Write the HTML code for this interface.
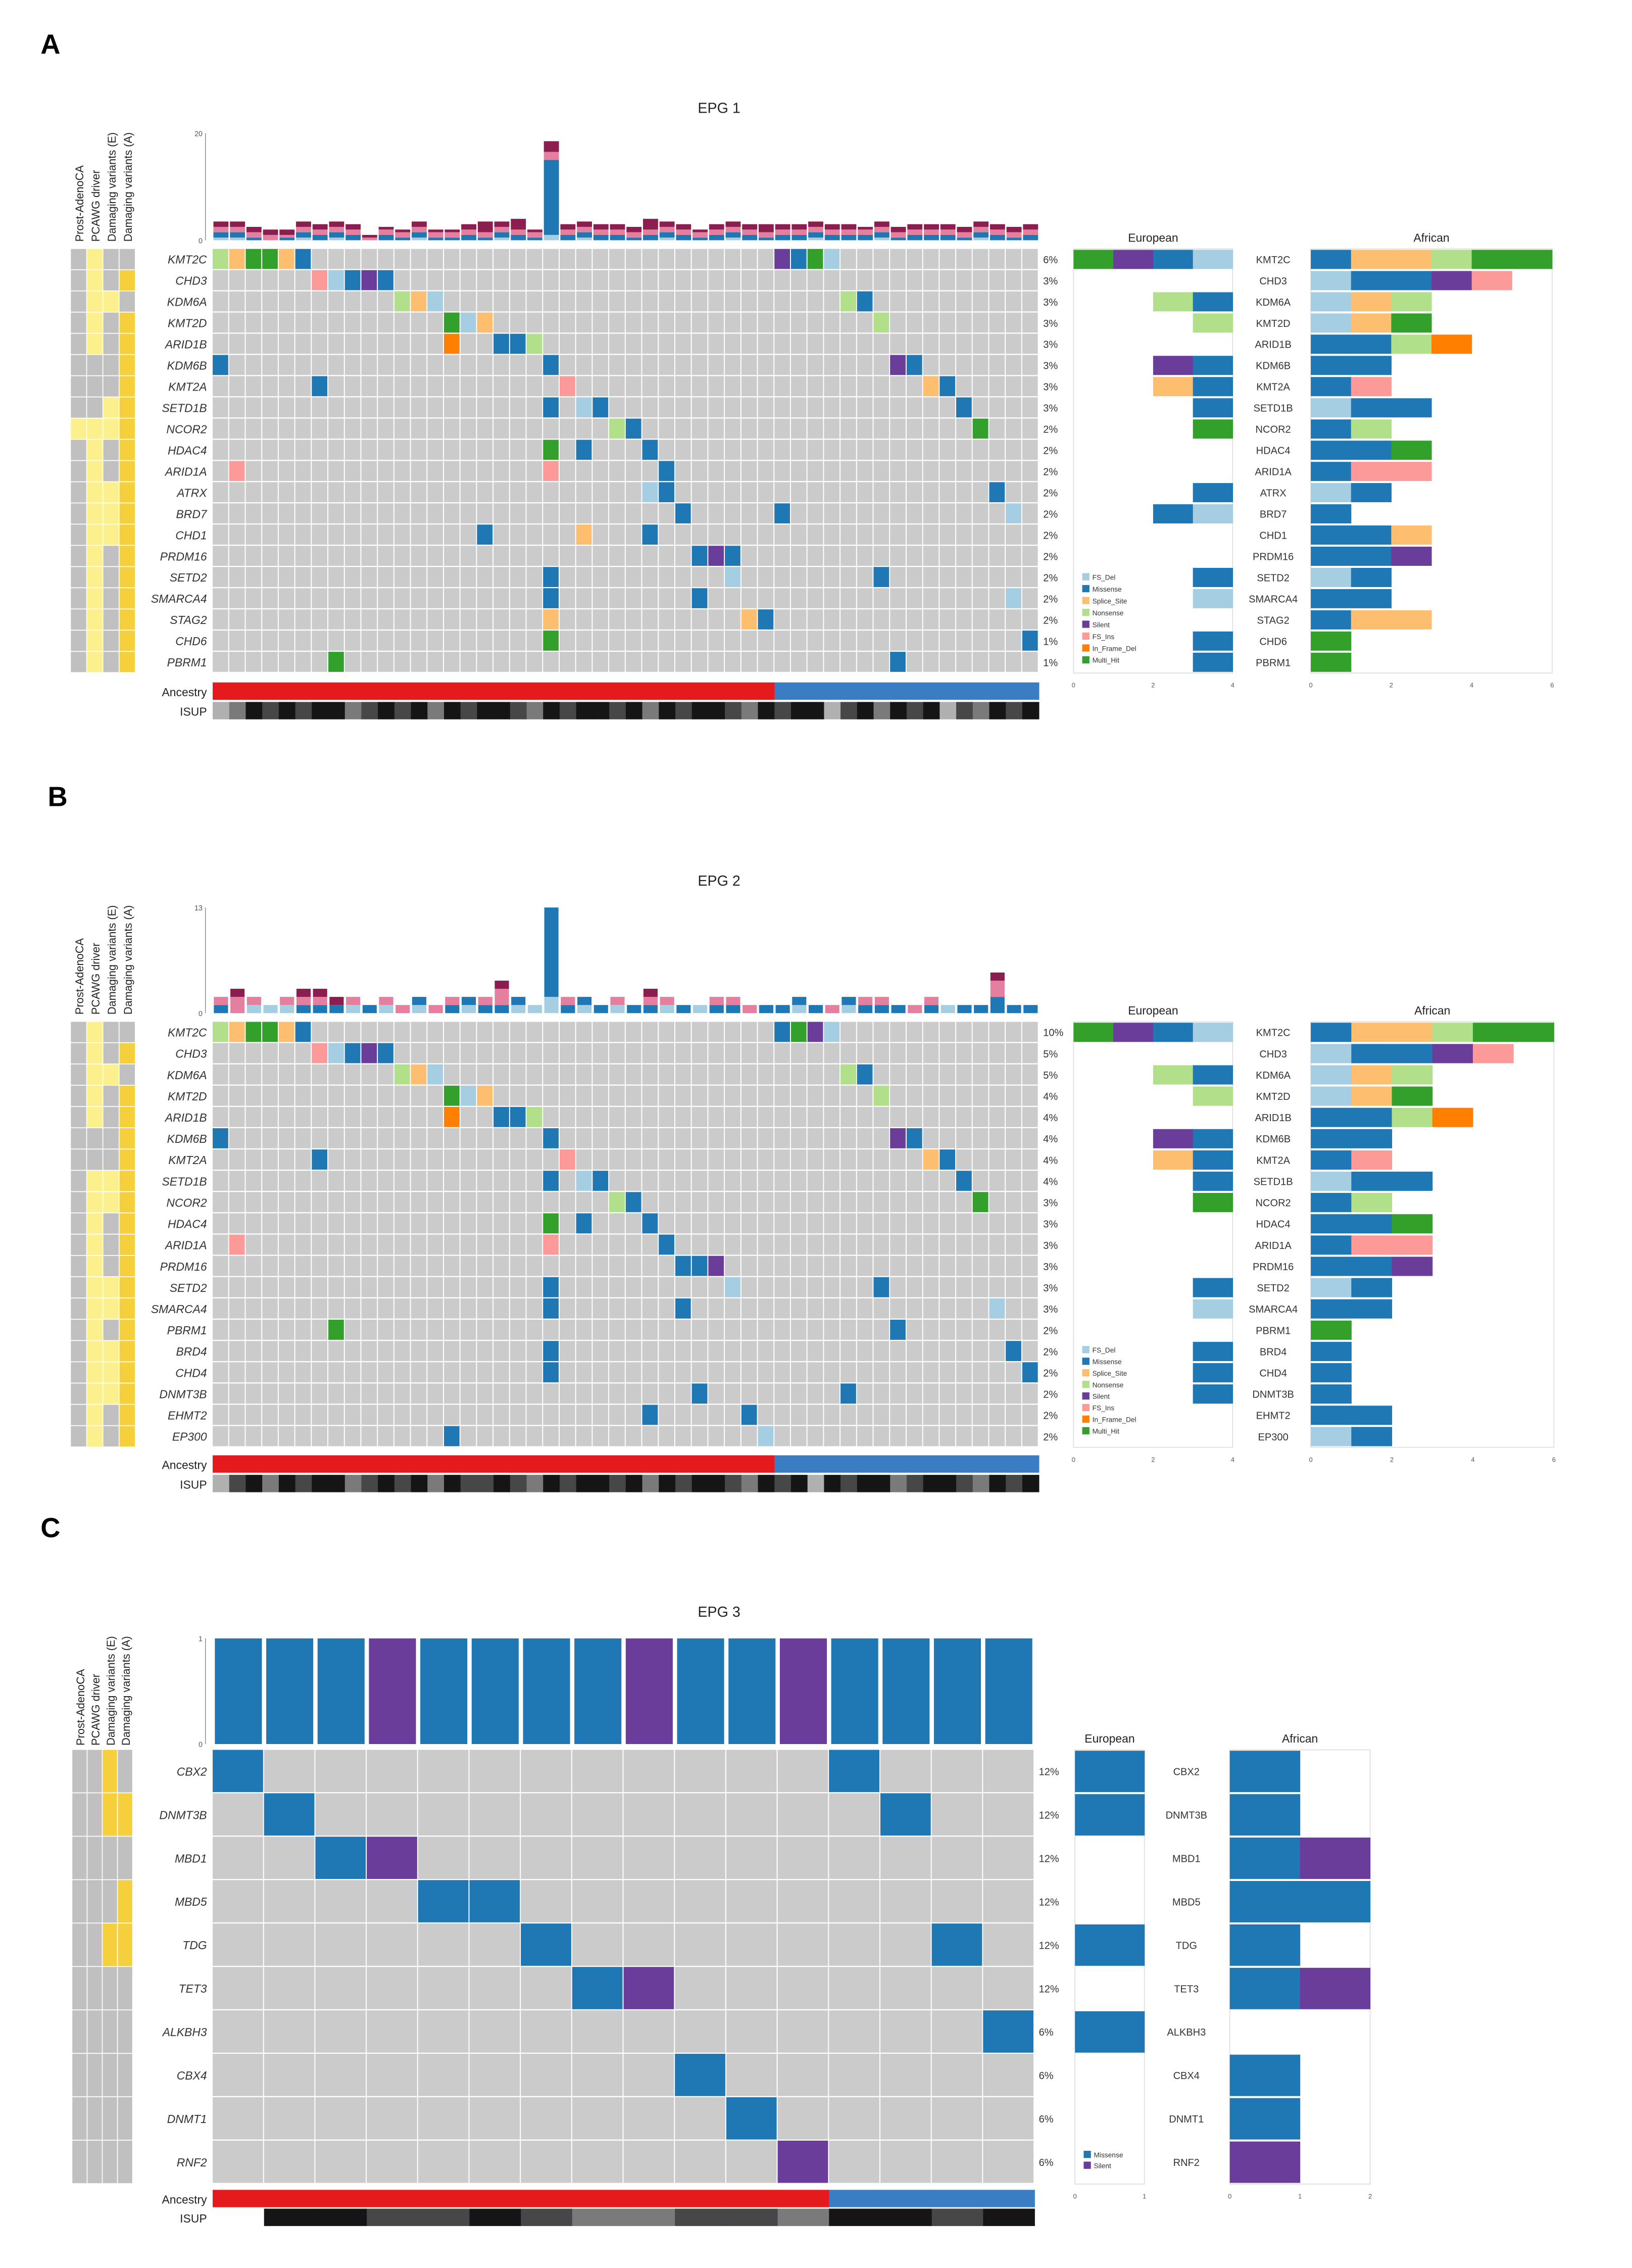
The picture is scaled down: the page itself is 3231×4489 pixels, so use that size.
<!DOCTYPE html>
<html><head><meta charset="utf-8">
<style>
html,body{margin:0;padding:0;background:#fff;}
svg{display:block;}
text{font-family:"Liberation Sans",sans-serif;}
</style></head>
<body>
<svg id="fig" xmlns="http://www.w3.org/2000/svg" width="3231" height="4489" viewBox="0 0 1128 1567" preserveAspectRatio="none">
<rect x="0" y="0" width="1128" height="1567" fill="#fff"/>
</svg>
<script>
// ---------- colours ----------
const typeColors = {fd:'#a6cee3',mi:'#1f78b4',sp:'#fdbf6f',no:'#b2df8a',si:'#6a3d9a',fi:'#fb9a99',id:'#ff7f00',mh:'#33a02c'};
const legendTypesAB = ['fd','mi','sp','no','si','fi','id','mh'];
const legendNamesAB = ['FS_Del','Missense','Splice_Site','Nonsense','Silent','FS_Ins','In_Frame_Del','Multi_Hit'];
const legendTypesC = ['mi','si'];
const legendNamesC = ['Missense','Silent'];
const isupColors = ['#151515','#474747','#7a7a7a','#b0b0b0','#ffffff'];
const annColors = ['#c0c0c0','#fbf08c','#f6cf3c'];
const annLabels = ['Prost-AdenoCA','PCAWG driver','Damaging variants (E)','Damaging variants (A)'];

// ---------- Panel A data ----------
const genesA = ['KMT2C','CHD3','KDM6A','KMT2D','ARID1B','KDM6B','KMT2A','SETD1B','NCOR2','HDAC4','ARID1A','ATRX','BRD7','CHD1','PRDM16','SETD2','SMARCA4','STAG2','CHD6','PBRM1'];
const pctA = [6,3,3,3,3,3,3,3,2,2,2,2,2,2,2,2,2,2,1,1];
const mutRowA = [0,0,0,0,0,0,0,0,0,0, 1,1,1,1,1, 2,2,2,2,2, 3,3,3,3, 4,4,4,4, 5,5,5,5, 6,6,6,6, 7,7,7,7, 8,8,8, 9,9,9, 10,10,10, 11,11,11, 12,12,12, 13,13,13, 14,14,14, 15,15,15, 16,16,16, 17,17,17, 18,18, 19,19];
const mutColA = [0,1,2,3,4,5,34,35,36,37, 6,7,8,9,10, 11,12,13,38,39, 14,15,16,40, 14,17,18,19, 0,20,41,42, 6,21,43,44, 20,22,23,45, 24,25,46, 20,22,26, 1,20,27, 26,27,47, 28,34,48, 16,22,26, 29,30,31, 20,31,40, 20,29,48, 20,32,33, 20,49, 7,41];
const mutTypeA = ['no','sp','mh','mh','sp','mi','si','mi','mh','fd', 'fi','fd','mi','si','mi', 'no','sp','fd','no','mi', 'mh','fd','sp','no', 'id','mi','mi','no', 'mi','mi','si','mi', 'mi','fi','sp','mi', 'mi','fd','mi','mi', 'no','mi','mh', 'mh','mi','mi', 'fi','fi','mi', 'fd','mi','mi', 'mi','mi','fd', 'mi','sp','mi', 'mi','si','mi', 'mi','fd','mi', 'mi','mi','fd', 'sp','sp','mi', 'mh','mi', 'mh','mi'];
const barBlueA = [1,1,0.5,0,0.5,1,1,1,1,0,1,0.5,1,0.5,0.5,1,0.5,1,1,0.5,14,1,1,1,1,0.5,1,1,1,0.5,1,1,1,0.5,1,1,1,1,1,1,1,0.5,1,1,1,0.5,1,1,0.5,1];
const barLightA = [0.5,0.5,0,0,0,0.5,0,0.5,0,0,0,0,0.5,0,0,0,0,0.5,0,0,1,0,0.5,0,0,0,0,0.5,0,0,0,0.5,0,0,0,0,0.5,0,0,0,0.5,0,0,0,0,0,0.5,0,0,0];
const barPinkA = [1,1,1,1,0.5,1,1,1,1,0.5,1,1,1,1,1,1,1,1,1,1,1.5,1,1,1,1,1,1,1,1,1,1,1,1,1,1,1,1,1,1,1,1,1,1,1,1,1,1,1,1,1];
const barMaroonA = [1,1,1,1,1,1,1,1,1,0.5,0.5,0.5,1,0.5,0.5,1,2,1,2,0.5,2,1,1,1,1,1,2,1,1,0.5,1,1,1,1.5,1,1,1,1,1,0.5,1,1,1,1,1,1,1,1,1,1];
const isupA = [3,2,0,1,0,1,0,0,2,1,0,1,0,2,0,1,0,0,1,2,0,1,0,0,1,0,2,0,1,0,0,1,2,0,1,0,0,3,1,0,2,0,1,0,3,1,2,0,1,0];
const ann0A = [0,0,0,0,0,0,0,0,1,0,0,0,0,0,0,0,0,0,0,0];
const ann1A = [1,1,1,1,1,0,0,0,1,1,1,1,1,1,1,1,1,1,1,1];
const ann2A = [0,0,1,0,0,0,0,1,1,0,0,1,1,1,0,0,0,0,0,0];
const ann3A = [0,2,0,2,2,2,2,2,2,2,2,2,2,2,2,2,2,2,2,2];
const euroA = [['mh','si','mi','fd'],[],['no','mi'],['no'],[],['si','mi'],['sp','mi'],['mi'],['mh'],[],[],['mi'],['mi','fd'],[],[],['mi'],['fd'],[],['mi'],['mi']];
const afrA = [['mi','sp','sp','no','mh','mh'],['fd','mi','mi','si','fi'],['fd','sp','no'],['fd','sp','mh'],['mi','mi','no','id'],['mi','mi'],['mi','fi'],['fd','mi','mi'],['mi','no'],['mi','mi','mh'],['mi','fi','fi'],['fd','mi'],['mi'],['mi','mi','sp'],['mi','mi','si'],['fd','mi'],['mi','mi'],['mi','sp','sp'],['mh'],['mh']];

// ---------- Panel B data ----------
const genesB = ['KMT2C','CHD3','KDM6A','KMT2D','ARID1B','KDM6B','KMT2A','SETD1B','NCOR2','HDAC4','ARID1A','PRDM16','SETD2','SMARCA4','PBRM1','BRD4','CHD4','DNMT3B','EHMT2','EP300'];
const pctB = [10,5,5,4,4,4,4,4,3,3,3,3,3,3,2,2,2,2,2,2];
const mutRowB = [0,0,0,0,0,0,0,0,0,0, 1,1,1,1,1, 2,2,2,2,2, 3,3,3,3, 4,4,4,4, 5,5,5,5, 6,6,6,6, 7,7,7,7, 8,8,8, 9,9,9, 10,10,10, 11,11,11, 12,12,12, 13,13,13, 14,14, 15,15, 16,16, 17,17, 18,18, 19,19];
const mutColB = [0,1,2,3,4,5,34,35,36,37, 6,7,8,9,10, 11,12,13,38,39, 14,15,16,40, 14,17,18,19, 0,20,41,42, 6,21,43,44, 20,22,23,45, 24,25,46, 20,22,26, 1,20,27, 28,29,30, 20,31,40, 20,28,47, 7,41, 20,48, 20,49, 29,38, 26,32, 14,33];
const mutTypeB = ['no','sp','mh','mh','sp','mi','mi','mh','si','fd', 'fi','fd','mi','si','mi', 'no','sp','fd','no','mi', 'mh','fd','sp','no', 'id','mi','mi','no', 'mi','mi','si','mi', 'mi','fi','sp','mi', 'mi','fd','mi','mi', 'no','mi','mh', 'mh','mi','mi', 'fi','fi','mi', 'mi','mi','si', 'mi','fd','mi', 'mi','mi','fd', 'mh','mi', 'mi','mi', 'mi','mi', 'mi','mi', 'mi','mi', 'mi','fd'];
const barBlueB = [1,0,0,0,0,1,1,1,0,1,0,0,1,0,1,1,1,1,1,0,11,1,1,1,0,1,1,0,1,0,1,1,0,1,1,1,1,0,1,1,1,1,0,1,0,1,1,2,1,1];
const barLightB = [0,0,1,1,1,0,0,0,1,0,1,0,1,0,0,1,0,0,1,1,2,0,1,0,1,0,0,1,0,1,0,0,0,0,0,1,0,0,1,0,0,0,0,0,1,0,0,0,0,0];
const barPinkB = [1,2,1,0,1,1,1,0,1,0,1,1,0,1,1,0,1,2,0,0,0,1,0,0,1,0,1,1,0,0,1,1,1,0,0,0,0,1,0,1,1,0,1,1,0,0,0,2,0,0];
const barMaroonB = [0,1,0,0,0,1,1,1,0,0,0,0,0,0,0,0,0,1,0,0,0,0,0,0,0,0,1,0,0,0,0,0,0,0,0,0,0,0,0,0,0,0,0,0,0,0,0,1,0,0];
const isupB = [3,1,0,2,0,1,0,0,2,1,0,1,0,2,0,1,1,0,1,2,0,1,0,0,1,0,2,0,1,0,0,1,2,0,1,0,3,0,1,0,0,2,1,0,0,1,2,0,1,0];
const ann0B = [0,0,0,0,0,0,0,0,0,0,0,0,0,0,0,0,0,0,0,0];
const ann1B = [1,1,1,1,1,0,0,1,1,1,1,1,1,1,1,1,1,1,1,1];
const ann2B = [0,0,1,0,0,0,0,1,1,0,0,0,1,1,0,1,1,1,0,0];
const ann3B = [0,2,0,2,2,2,2,2,2,2,2,2,2,2,2,2,2,2,2,2];
const euroB = [['mh','si','mi','fd'],[],['no','mi'],['no'],[],['si','mi'],['sp','mi'],['mi'],['mh'],[],[],[],['mi'],['fd'],[],['mi'],['mi'],['mi'],[],[]];
const afrB = [['mi','sp','sp','no','mh','mh'],['fd','mi','mi','si','fi'],['fd','sp','no'],['fd','sp','mh'],['mi','mi','no','id'],['mi','mi'],['mi','fi'],['fd','mi','mi'],['mi','no'],['mi','mi','mh'],['mi','fi','fi'],['mi','mi','si'],['fd','mi'],['mi','mi'],['mh'],['mi'],['mi'],['mi'],['mi','mi'],['fd','mi']];

// ---------- Panel C data ----------
const genesC = ['CBX2','DNMT3B','MBD1','MBD5','TDG','TET3','ALKBH3','CBX4','DNMT1','RNF2'];
const pctC = [12,12,12,12,12,12,6,6,6,6];
const mutRowC = [0,0,1,1,2,2,3,3,4,4,5,5,6,7,8,9];
const mutColC = [0,12,1,13,2,3,4,5,6,14,7,8,15,9,10,11];
const mutTypeC = ['mi','mi','mi','mi','mi','si','mi','mi','mi','mi','mi','si','mi','mi','mi','si'];
const barBlueC = [1,1,1,0,1,1,1,1,0,1,1,0,1,1,1,1];
const barSilentC = [0,0,0,1,0,0,0,0,1,0,0,1,0,0,0,0];
const isupC = [4,0,0,1,1,0,1,2,2,1,1,2,0,0,1,0];
const ann0C = [0,0,0,0,0,0,0,0,0,0];
const ann1C = [0,0,0,0,0,0,0,0,0,0];
const ann2C = [2,2,0,0,2,0,0,0,0,0];
const ann3C = [0,2,0,2,2,0,0,0,0,0];
const euroC = [['mi'],['mi'],[],[],['mi'],[],['mi'],[],[],[]];
const afrC = [['mi'],['mi'],['mi','si'],['mi','mi'],['mi'],['mi','si'],[],['mi'],['mi'],['si']];

// ---------- drawing ----------
const NS = 'http://www.w3.org/2000/svg';
const svg = document.getElementById('fig');
function mk(tag, attrs, parent){
  const e = document.createElementNS(NS, tag);
  for (const k in attrs) e.setAttribute(k, attrs[k]);
  (parent || svg).appendChild(e);
  return e;
}
function txt(x,y,s,size,opts,parent){
  const o = Object.assign({x:x,y:y,'font-size':size,fill:'#222'}, opts||{});
  const t = mk('text', o, parent);
  t.textContent = s;
  return t;
}

function drawPanel(P){
  const g = mk('g', {});
  
  
  // letter + title
  const L = txt(P.letterX, P.letterY, P.letter, 19, {'font-weight':'bold', fill:'#000'}, g);
  
  
  const T = txt(497, P.titleY, P.title, 10, {'text-anchor':'middle', fill:'#222'}, g);
  
  

  const nR = P.genes.length, nC = P.nCols;
  const cw = P.gridW / nC;
  const colX = c => P.gridX + c * cw;
  const rowY = r => P.gridTop + r * P.rowH;

  // annotation columns
  const annW = P.annW;
  const annCols = [P.ann0, P.ann1, P.ann2, P.ann3];
  for (let a = 0; a < 4; a++){
    const lab = txt(0,0,annLabels[a],7.6,{transform:'translate('+(P.annX + a*annW + annW/2 + 3)+','+(P.barBot+1)+') rotate(-90)', fill:'#222'}, g);
    
    
    for (let r = 0; r < nR; r++){
      const c = mk('rect', {x:P.annX + a*annW, y:rowY(r), width:annW-0.6, height:P.rowH-0.6, fill:annColors[annCols[a][r]]}, g);
      
      
    }
  }

  // top bar axis
  const yScale = v => P.barBot - v / P.barMax * (P.barBot - P.barTop);
  const ax = mk('line', {x1:P.gridX-5, x2:P.gridX-5, y1:P.barTop, y2:P.barBot, stroke:'#888', 'stroke-width':0.5}, g);
  
  
  const t1 = txt(P.gridX-7, P.barTop+2, String(P.barMax), 5, {'text-anchor':'end', fill:'#555'}, g);
  
  
  const t0 = txt(P.gridX-7, P.barBot+2, '0', 5, {'text-anchor':'end', fill:'#555'}, g);
  
  

  // stacked top bars
  for (let c = 0; c < nC; c++){
    let acc = 0;
    for (let s = 0; s < P.barSeries.length; s++){
      const v = P.barSeries[s][c];
      if (!v) continue;
      const y1 = yScale(acc + v), y0 = yScale(acc);
      const b = mk('rect', {x:colX(c)+P.barGap, y:y1, width:cw-2*P.barGap, height:y0-y1, fill:P.barColors[s]}, g);
      
      
      acc += v;
    }
  }

  // grid background
  for (let r = 0; r < nR; r++){
    for (let c = 0; c < nC; c++){
      const cell = mk('rect', {x:colX(c), y:rowY(r), width:cw-0.7, height:P.rowH-0.8, fill:'#cbcbcb'}, g);
      
      
    }
    const gl = txt(P.gridX-4, rowY(r)+P.rowH/2+2.8, P.genes[r], P.geneSize, {'text-anchor':'end','font-style':'italic', fill:'#333'}, g);
    
    
    const pl = txt(P.gridX+P.gridW+3, rowY(r)+P.rowH/2+2.5, P.pct[r]+'%', 7, {fill:'#333'}, g);
    
    
  }
  // mutations
  for (let i = 0; i < P.mutRow.length; i++){
    const m = mk('rect', {x:colX(P.mutCol[i]), y:rowY(P.mutRow[i]), width:cw-0.7, height:P.rowH-0.8, fill:typeColors[P.mutType[i]]}, g);
    
    
  }
  // ancestry & ISUP
  const al = txt(P.gridX-4, P.ancY+P.stripH-2.5, 'Ancestry', 8, {'text-anchor':'end', fill:'#222'}, g);
  
  
  const il = txt(P.gridX-4, P.isupY+P.stripH-2.5, 'ISUP', 8, {'text-anchor':'end', fill:'#222'}, g);
  
  
  for (let c = 0; c < nC; c++){
    const an = mk('rect', {x:colX(c), y:P.ancY, width:cw+0.3, height:P.stripH, fill: c < P.nRed ? '#e41a1c' : '#3b7dc2'}, g);
    
    
    const is = mk('rect', {x:colX(c), y:P.isupY, width:cw+0.3, height:P.stripH, fill:isupColors[P.isup[c]]}, g);
    
    
  }

  // European / African panels
  function sidePanel(x0, units, unitW, data, rightAlign, title, ticks, name){
    const box = mk('rect', {x:x0, y:P.gridTop, width:units*unitW, height:nR*P.rowH, fill:'none', stroke:'#ddd', 'stroke-width':0.6}, g);
    
    
    const tt = txt(x0 + units*unitW/2, P.gridTop-5, title, 8, {'text-anchor':'middle', fill:'#222'}, g);
    
    
    for (let i = 0; i < ticks.length; i++){
      const tk = txt(x0 + i*(units*unitW)/(ticks.length-1), P.gridTop + nR*P.rowH + 10, ticks[i], 4.5, {'text-anchor':'middle', fill:'#555'}, g);
      
      
    }
    for (let r = 0; r < nR; r++){
      const segs = data[r];
      let start = rightAlign ? x0 + units*unitW - segs.length*unitW : x0;
      for (let k = 0; k < segs.length; k++){
        const s = mk('rect', {x:start + k*unitW, y:rowY(r)+0.6, width:unitW+0.2, height:P.rowH-1.4, fill:typeColors[segs[k]]}, g);
        
        
      }
    }
  }
  sidePanel(P.euroX, P.euroUnits, P.euroUnitW, P.euro, true, 'European', P.euroTicks, 'european');
  sidePanel(P.afrX, P.afrUnits, P.afrUnitW, P.afr, false, 'African', P.afrTicks, 'african');
  for (let r = 0; r < nR; r++){
    const rl = txt(P.midLabelX, rowY(r)+P.rowH/2+2.5, P.genes[r], 7, {'text-anchor':'middle', fill:'#333'}, g);
    
    
  }
  // legend
  for (let i = 0; i < P.legTypes.length; i++){
    const ly = P.legY + i*P.legStep;
    const sw = mk('rect', {x:P.euroX+6, y:ly, width:5, height:5, fill:typeColors[P.legTypes[i]]}, g);
    
    
    const lt = txt(P.euroX+13, ly+4.5, P.legNames[i], 4.8, {fill:'#333'}, g);
    
    
  }
}

const lbc = typeColors.fd, blc = typeColors.mi;
drawPanel({key:'a', letter:'A', letterX:28, letterY:37, title:'EPG 1', titleY:78,
  genes:genesA, pct:pctA, mutRow:mutRowA, mutCol:mutColA, mutType:mutTypeA,
  nCols:50, gridX:147, gridW:571, gridTop:172, rowH:14.65,
  barTop:92, barBot:166, barMax:20, barGap:0.5,
  barSeries:[barLightA, barBlueA, barPinkA, barMaroonA], barColors:[lbc, blc, '#e57fa0', '#8c1d4f'],
  annX:49, annW:11.2, ann0:ann0A, ann1:ann1A, ann2:ann2A, ann3:ann3A,
  ancY:471.5, isupY:485, stripH:12, nRed:34, isup:isupA, geneSize:8,
  euroX:742, euroUnits:4, euroUnitW:27.5, euro:euroA, euroTicks:['0','2','4'],
  afrX:906, afrUnits:6, afrUnitW:27.8, afr:afrA, afrTicks:['0','2','4','6'],
  midLabelX:880, legTypes:legendTypesAB, legNames:legendNamesAB, legY:396, legStep:8.2});

drawPanel({key:'b', letter:'B', letterX:33, letterY:557, title:'EPG 2', titleY:612,
  genes:genesB, pct:pctB, mutRow:mutRowB, mutCol:mutColB, mutType:mutTypeB,
  nCols:50, gridX:147, gridW:571, gridTop:706, rowH:14.7,
  barTop:627, barBot:700, barMax:13, barGap:0.8,
  barSeries:[barLightB, barBlueB, barPinkB, barMaroonB], barColors:[lbc, blc, '#e57fa0', '#8c1d4f'],
  annX:49, annW:11.2, ann0:ann0B, ann1:ann1B, ann2:ann2B, ann3:ann3B,
  ancY:1005.5, isupY:1019, stripH:12, nRed:34, isup:isupB, geneSize:8,
  euroX:742, euroUnits:4, euroUnitW:27.5, euro:euroB, euroTicks:['0','2','4'],
  afrX:906, afrUnits:6, afrUnitW:28, afr:afrB, afrTicks:['0','2','4','6'],
  midLabelX:880, legTypes:legendTypesAB, legNames:legendNamesAB, legY:930, legStep:8});

drawPanel({key:'c', letter:'C', letterX:28, letterY:1062, title:'EPG 3', titleY:1117,
  genes:genesC, pct:pctC, mutRow:mutRowC, mutCol:mutColC, mutType:mutTypeC,
  nCols:16, gridX:147, gridW:568, gridTop:1209, rowH:30,
  barTop:1132, barBot:1205, barMax:1, barGap:1.5,
  barSeries:[barBlueC, barSilentC], barColors:[blc, typeColors.si],
  annX:50, annW:10.5, ann0:ann0C, ann1:ann1C, ann2:ann2C, ann3:ann3C,
  ancY:1513, isupY:1526, stripH:12, nRed:12, isup:isupC, geneSize:8,
  euroX:743, euroUnits:1, euroUnitW:48, euro:euroC, euroTicks:['0','1'],
  afrX:850, afrUnits:2, afrUnitW:48.5, afr:afrC, afrTicks:['0','1','2'],
  midLabelX:820, legTypes:legendTypesC, legNames:legendNamesC, legY:1486, legStep:7.5});
</script>
</body></html>
